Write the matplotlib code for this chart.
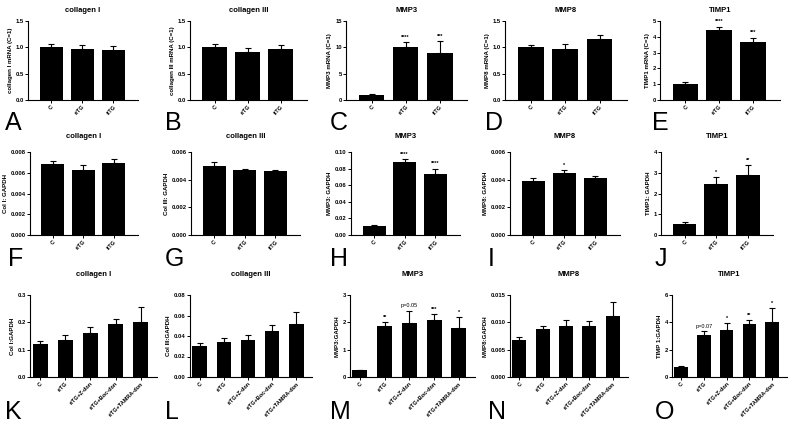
import matplotlib
matplotlib.use("Agg")
import matplotlib.pyplot as plt

plt.rcParams['font.family'] = ['Liberation Sans', 'DejaVu Sans']

W, H = 800, 423

# group names
groups3 = ["C", "rtTG", "itTG"]
groups5 = ["C", "rtTG", "rtTG+Z-don", "rtTG+Boc-don", "rtTG+TAMRA-don"]

titles = ["collagen I", "collagen III", "MMP3", "MMP8", "TIMP1"]

# row 1: mRNA relative to control
row1_ylabels = ["collagen I mRNA (C=1)", "collagen III mRNA (C=1)", "MMP3 mRNA (C=1)",
                "MMP8 mRNA (C=1)", "TIMP1 mRNA (C=1)"]
colI_mrna = [1.0, 0.97, 0.94]
colI_mrna_err = [0.07, 0.08, 0.08]
colIII_mrna = [1.0, 0.91, 0.96]
colIII_mrna_err = [0.07, 0.08, 0.08]
mmp3_mrna = [1.0, 10.1, 8.9]
mmp3_mrna_err = [0.06, 0.9, 2.3]
mmp8_mrna = [1.0, 0.97, 1.15]
mmp8_mrna_err = [0.05, 0.09, 0.08]
timp1_mrna = [1.0, 4.45, 3.65]
timp1_mrna_err = [0.13, 0.2, 0.3]
mmp3_mrna_sig = ["", "****", "***"]
timp1_mrna_sig = ["", "****", "***"]

# row 2: ratio to GAPDH
row2_ylabels = ["Col I: GAPDH", "Col III: GAPDH", "MMP3: GAPDH", "MMP8: GAPDH", "TIMP1: GAPDH"]
colI_gapdh = [0.0068, 0.0063, 0.0069]
colI_gapdh_err = [0.0003, 0.0004, 0.0004]
colIII_gapdh = [0.0050, 0.0047, 0.00463]
colIII_gapdh_err = [0.0003, 0.0001, 0.00004]
mmp3_gapdh = [0.011, 0.088, 0.073]
mmp3_gapdh_err = [0.0008, 0.003, 0.007]
mmp8_gapdh = [0.0039, 0.0045, 0.0041]
mmp8_gapdh_err = [0.0002, 0.0002, 0.0002]
timp1_gapdh = [0.55, 2.45, 2.9]
timp1_gapdh_err = [0.06, 0.33, 0.45]
mmp3_gapdh_sig = ["", "****", "****"]
mmp8_gapdh_sig = ["", "*", ""]
timp1_gapdh_sig = ["", "*", "**"]

# row 3: inhibitor experiment
row3_ylabels = ["Col I:GAPDH", "Col III:GAPDH", "MMP3:GAPDH", "MMP8:GAPDH", "TIMP 1:GAPDH"]
colI_inh = [0.12, 0.135, 0.16, 0.193, 0.20]
colI_inh_err = [0.01, 0.018, 0.023, 0.018, 0.055]
colIII_inh = [0.030, 0.034, 0.036, 0.045, 0.052]
colIII_inh_err = [0.003, 0.004, 0.005, 0.006, 0.011]
mmp3_inh = [0.24, 1.85, 1.97, 2.1, 1.8]
mmp3_inh_err = [0.03, 0.15, 0.45, 0.2, 0.38]
mmp8_inh = [0.0068, 0.0088, 0.0094, 0.0093, 0.0112]
mmp8_inh_err = [0.0005, 0.0006, 0.001, 0.0009, 0.0025]
timp1_inh = [0.75, 3.05, 3.45, 3.85, 4.05]
timp1_inh_err = [0.05, 0.3, 0.5, 0.3, 1.0]
mmp3_inh_sig = ["", "**", "p=0.05", "***", "*"]
timp1_inh_sig = ["", "p=0.07", "*", "**", "*"]

letters = ["A", "B", "C", "D", "E", "F", "G", "H", "I", "J", "K", "L", "M", "N", "O"]


def add_px_axes(fig, x0, x1, ytop, ybot):
    return fig.add_axes([x0 / W, 1 - ybot / H, (x1 - x0) / W, (ybot - ytop) / H])


def bar_panel(ax, names, vals, errs, sig, yticks, ylabel, fmt, xlim, width):
    x = list(range(len(names)))
    ax.bar(x, vals, width=width, color="black", zorder=2)
    ax.errorbar(x, vals, yerr=[[0] * len(errs), errs], fmt="none", ecolor="black",
                elinewidth=0.8, capsize=2.5, capthick=0.8, zorder=3)
    ax.set_ylim(0, yticks[-1])
    ax.set_xlim(*xlim)
    ax.set_yticks(yticks)
    ax.set_yticklabels([fmt.format(t) for t in yticks], fontsize=4.2, fontweight="bold")
    ax.set_xticks(x)
    ax.set_xticklabels(names, rotation=45, ha="right", rotation_mode="anchor",
                       fontsize=4.0, fontweight="bold")
    ax.set_ylabel(ylabel, fontsize=4.4, fontweight="bold", labelpad=2)
    for s in ["top", "right"]:
        ax.spines[s].set_visible(False)
    for s in ["left", "bottom"]:
        ax.spines[s].set_linewidth(0.8)
    ax.tick_params(length=2, width=0.7, pad=1)
    if sig:
        for xi, v, e, s in zip(x, vals, errs, sig):
            if s:
                ax.text(xi, v + e + yticks[-1] * 0.03, s, ha="center", va="bottom",
                        fontsize=4.0, fontweight="bold" if s.startswith("*") else "normal")


fig = plt.figure(figsize=(W / 100, H / 100), dpi=100)

rows = [
    dict(ytop=21, ybot=100, title_y=10, letter_y=123,
         xs=[(28, 138), (190, 307), (346, 467), (505, 627), (660, 780)],
         letter_x=[5, 165, 330, 485, 652],
         names=groups3, xlim=(-0.75, 2.8), width=0.75,
         data=[(colI_mrna, colI_mrna_err, None, [0, 0.5, 1.0, 1.5], "{:.1f}"),
               (colIII_mrna, colIII_mrna_err, None, [0, 0.5, 1.0, 1.5], "{:.1f}"),
               (mmp3_mrna, mmp3_mrna_err, mmp3_mrna_sig, [0, 5, 10, 15], "{:.0f}"),
               (mmp8_mrna, mmp8_mrna_err, None, [0, 0.5, 1.0, 1.5], "{:.1f}"),
               (timp1_mrna, timp1_mrna_err, timp1_mrna_sig, [0, 1, 2, 3, 4, 5], "{:.0f}")],
         ylabels=row1_ylabels),
    dict(ytop=152, ybot=235, title_y=136, letter_y=259,
         xs=[(30, 138), (191, 300), (351, 460), (510, 620), (661, 773)],
         letter_x=[8, 165, 330, 488, 655],
         names=groups3, xlim=(-0.75, 2.8), width=0.75,
         data=[(colI_gapdh, colI_gapdh_err, None, [0, 0.002, 0.004, 0.006, 0.008], "{:.3f}"),
               (colIII_gapdh, colIII_gapdh_err, None, [0, 0.002, 0.004, 0.006], "{:.3f}"),
               (mmp3_gapdh, mmp3_gapdh_err, mmp3_gapdh_sig, [0, 0.02, 0.04, 0.06, 0.08, 0.10], "{:.2f}"),
               (mmp8_gapdh, mmp8_gapdh_err, mmp8_gapdh_sig, [0, 0.002, 0.004, 0.006], "{:.3f}"),
               (timp1_gapdh, timp1_gapdh_err, timp1_gapdh_sig, [0, 1, 2, 3, 4], "{:.0f}")],
         ylabels=row2_ylabels),
    dict(ytop=295, ybot=377, title_y=274, letter_y=412,
         xs=[(30, 157), (190, 312), (350, 475), (510, 628), (672, 787)],
         letter_x=[5, 165, 330, 488, 655],
         names=groups5, xlim=(-0.4, 4.65), width=0.6,
         data=[(colI_inh, colI_inh_err, None, [0, 0.1, 0.2, 0.3], "{:.1f}"),
               (colIII_inh, colIII_inh_err, None, [0, 0.02, 0.04, 0.06, 0.08], "{:.2f}"),
               (mmp3_inh, mmp3_inh_err, mmp3_inh_sig, [0, 1, 2, 3], "{:.0f}"),
               (mmp8_inh, mmp8_inh_err, None, [0, 0.005, 0.010, 0.015], "{:.3f}"),
               (timp1_inh, timp1_inh_err, timp1_inh_sig, [0, 2, 4, 6], "{:.0f}")],
         ylabels=row3_ylabels),
]

k = 0
for row in rows:
    for i in range(5):
        x0, x1 = row["xs"][i]
        ax = add_px_axes(fig, x0, x1, row["ytop"], row["ybot"])
        vals, errs, sig, yt, fmt = row["data"][i]
        bar_panel(ax, row["names"], vals, errs, sig, yt, row["ylabels"][i], fmt,
                  row["xlim"], row["width"])
        fig.text((x0 + x1) / 2 / W, 1 - row["title_y"] / H, titles[i], ha="center",
                 va="center", fontsize=5.5, fontweight="bold")
        fig.text(row["letter_x"][i] / W, 1 - row["letter_y"] / H, letters[k], ha="left",
                 va="center", fontsize=18)
        k += 1

fig.savefig("out.png", dpi=100)
